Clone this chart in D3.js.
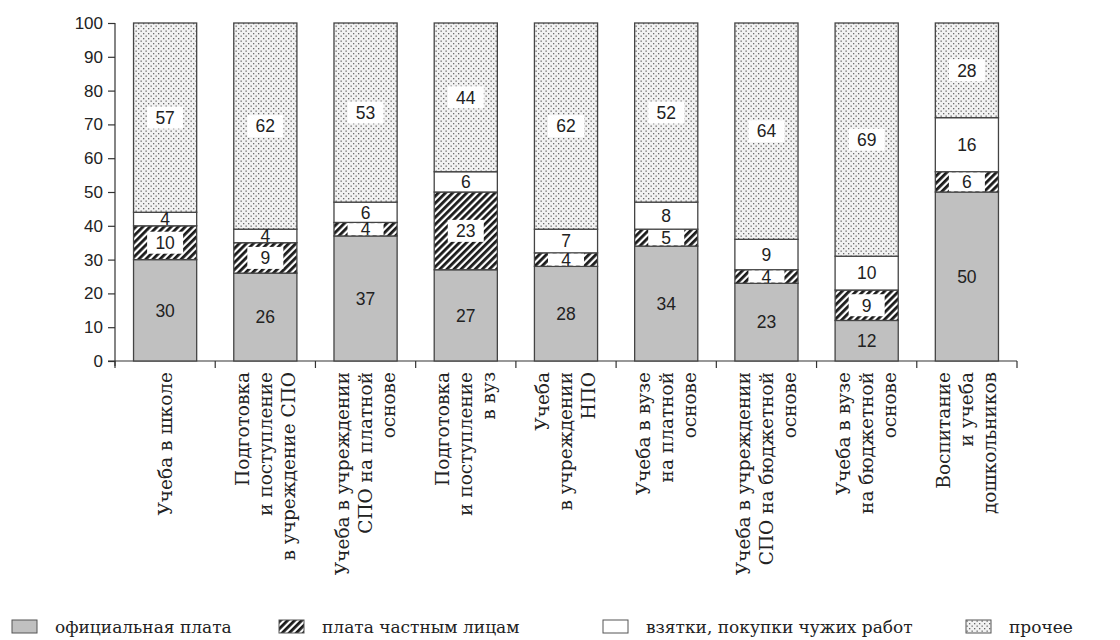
<!DOCTYPE html>
<html>
<head>
<meta charset="utf-8">
<script src="https://cdn.jsdelivr.net/npm/d3@7"></script>
<style>
  body { margin: 0; background: #fff; }
  svg { display: block; }
</style>
</head>
<body>
<svg id="chart" width="1120" height="640"></svg>
<script>
// categories (lines of each rotated label)
var categories = [
  ["Учеба в школе"],
  ["Подготовка", "и поступление", "в учреждение СПО"],
  ["Учеба в учреждении", "СПО на платной", "основе"],
  ["Подготовка", "и поступление", "в вуз"],
  ["Учеба", "в учреждении", "НПО"],
  ["Учеба в вузе", "на платной", "основе"],
  ["Учеба в учреждении", "СПО на бюджетной", "основе"],
  ["Учеба в вузе", "на бюджетной", "основе"],
  ["Воспитание", "и учеба", "дошкольников"]
]
var official = [30, 26, 37, 27, 28, 34, 23, 12, 50]
var privatePay = [10, 9, 4, 23, 4, 5, 4, 9, 6]
var bribes = [4, 4, 6, 6, 7, 8, 9, 10, 16]
var other = [57, 62, 53, 44, 62, 52, 64, 69, 28]
var seriesNames = ["официальная плата", "плата частным лицам", "взятки, покупки чужих работ", "прочее"]
var yTicks = [0, 10, 20, 30, 40, 50, 60, 70, 80, 90, 100]

var svg = d3.select("#chart")

// patterns
var defs = svg.append("defs")
var hatch = defs.append("pattern")
  .attr("id", "hatch")
  .attr("patternUnits", "userSpaceOnUse")
  .attr("width", 5).attr("height", 5)
  .attr("patternTransform", "rotate(45)")
hatch.append("rect").attr("width", 5).attr("height", 5).attr("fill", "#fff")
hatch.append("rect").attr("width", 2.8).attr("height", 5).attr("fill", "#1a1a1a")

var dots = defs.append("pattern")
  .attr("id", "dots")
  .attr("patternUnits", "userSpaceOnUse")
  .attr("width", 5).attr("height", 5)
dots.append("rect").attr("width", 5).attr("height", 5).attr("fill", "#f2f2f2")
dots.append("rect").attr("x", 0.5).attr("y", 0.5).attr("width", 1.3).attr("height", 1.3).attr("fill", "#6a6a6a")
dots.append("rect").attr("x", 3).attr("y", 3).attr("width", 1.3).attr("height", 1.3).attr("fill", "#6a6a6a")

var fills = ["#c0c0c0", "url(#hatch)", "#ffffff", "url(#dots)"]

var table = categories.map(function(c, i) {
  return {i: i, s0: official[i], s1: privatePay[i], s2: bribes[i], s3: other[i]}
})
var keys = ["s0", "s1", "s2", "s3"]
var stacked = d3.stack().keys(keys)(table)
// "прочее" fills the rest of the bar up to 100
stacked[3].forEach(function(d) { d[1] = 100 })

var x = d3.scaleBand()
  .domain(d3.range(categories.length))
  .range([115, 1017])
  .paddingInner(0.37)
  .paddingOuter(0.185)

var y = d3.scaleLinear()
  .domain([0, 100])
  .range([361, 23])

// y axis
var yAxis = svg.append("g")
  .attr("transform", "translate(115,0)")
  .call(d3.axisLeft(y).tickValues(yTicks).tickSize(7).tickPadding(5))
yAxis.select(".domain").remove()
yAxis.append("line").attr("x1", 0).attr("x2", 0).attr("y1", 23).attr("y2", 366).attr("stroke", "#333").attr("stroke-width", 1.2)
yAxis.selectAll(".tick line").attr("stroke", "#333").attr("stroke-width", 1.2)
yAxis.selectAll(".tick text")
  .attr("fill", "#222")
  .attr("font-family", "Liberation Sans, Arial, sans-serif")
  .attr("font-size", "17px")

// x axis line with ticks at band boundaries
var bounds = d3.range(categories.length + 1).map(function(i) { return 115 + i * x.step() })
svg.append("line").attr("x1", 108).attr("x2", 1017).attr("y1", 361).attr("y2", 361)
  .attr("stroke", "#333").attr("stroke-width", 1.2)
svg.selectAll(".xtick").data(bounds).enter().append("line")
  .attr("class", "xtick")
  .attr("x1", function(d) { return d }).attr("x2", function(d) { return d })
  .attr("y1", 361).attr("y2", 368)
  .attr("stroke", "#333").attr("stroke-width", 1.2)

// bars
var layer = svg.selectAll(".layer")
  .data(stacked)
  .enter().append("g")
  .attr("class", "layer")
  .attr("fill", function(d, i) { return fills[i] })

layer.selectAll("rect")
  .data(function(d) { return d })
  .enter().append("rect")
  .attr("x", function(d, i) { return x(i) })
  .attr("y", function(d) { return y(d[1]) })
  .attr("width", x.bandwidth())
  .attr("height", function(d) { return y(d[0]) - y(d[1]) })
  .attr("stroke", "#444")
  .attr("stroke-width", 1.3)

// value labels
var values = [official, privatePay, bribes, other]
stacked.forEach(function(s, k) {
  s.forEach(function(d, i) {
    var cx = x(i) + x.bandwidth() / 2
    var cy = (y(d[0]) + y(d[1])) / 2
    if (k == 1 || k == 3) {
      var h = Math.min(22, y(d[0]) - y(d[1]) - 1.5)
      svg.append("rect")
        .attr("x", cx - 18).attr("y", cy - h / 2)
        .attr("width", 36).attr("height", h)
        .attr("fill", "#fff")
    }
    svg.append("text")
      .attr("x", cx)
      .attr("y", cy)
      .attr("dy", "0.36em")
      .attr("text-anchor", "middle")
      .attr("font-family", "Liberation Sans, Arial, sans-serif")
      .attr("font-size", "17.5px")
      .attr("fill", "#222")
      .text(values[k][i])
  })
})

// category labels, rotated
var lineGap = 23
var cat = svg.selectAll(".cat")
  .data(categories)
  .enter().append("g")
  .attr("class", "cat")
  .attr("transform", function(d, i) { return "translate(" + (x(i) + x.bandwidth() / 2) + ",372) rotate(-90)" })

cat.selectAll("text")
  .data(function(d) { return d.map(function(t, j) { return {t: t, off: (j - (d.length - 1) / 2) * lineGap} }) })
  .enter().append("text")
  .attr("x", 0)
  .attr("y", function(d) { return d.off })
  .attr("dy", "0.35em")
  .attr("text-anchor", "end")
  .attr("font-family", "DejaVu Serif, serif")
  .attr("font-size", "18.5px")
  .attr("fill", "#222")
  .text(function(d) { return d.t })

// legend
var legendX = [12, 279, 603, 966]
var legend = svg.selectAll(".leg")
  .data(seriesNames)
  .enter().append("g")
  .attr("class", "leg")
  .attr("transform", function(d, i) { return "translate(" + legendX[i] + ",620)" })

legend.append("rect")
  .attr("width", 25).attr("height", 13)
  .attr("fill", function(d, i) { return fills[i] })
  .attr("stroke", "#555").attr("stroke-width", 1)

legend.append("text")
  .attr("x", 43).attr("y", 7)
  .attr("dy", "0.35em")
  .attr("font-family", "DejaVu Serif, serif")
  .attr("font-size", "17px")
  .attr("fill", "#222")
  .text(function(d) { return d })
</script>
</body>
</html>
